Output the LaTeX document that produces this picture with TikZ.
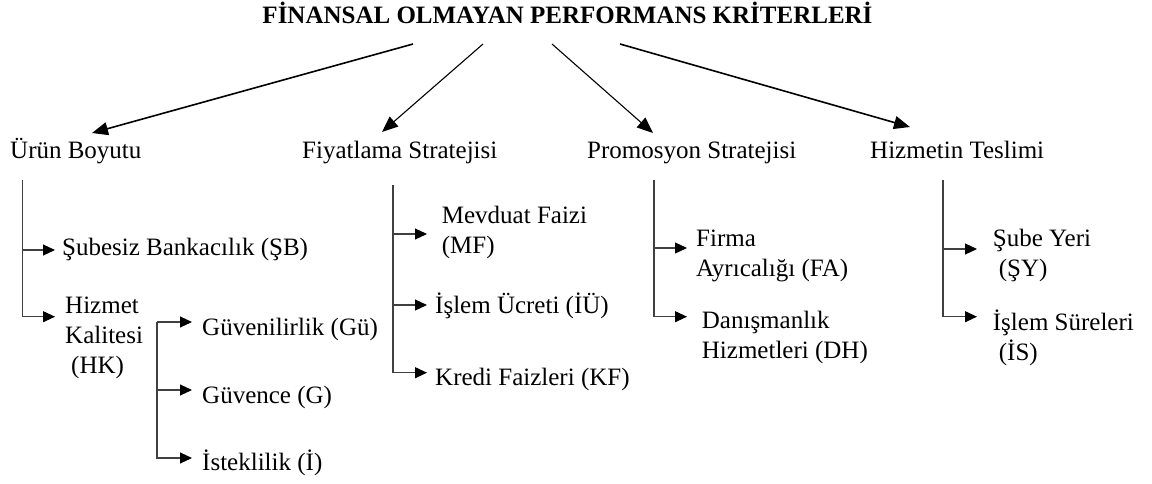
\documentclass[tikz,border=0pt]{standalone}
\usepackage{fontspec}
\setmainfont{Liberation Serif}
\usetikzlibrary{arrows.meta}
% left-aligned multi-line label, aligned on the baseline of its first line
\newcommand\stacklines[1]{\begin{tabular}[t]{@{}l@{}}#1\end{tabular}}
\tikzset{
  lbl/.style={inner sep=0pt, anchor=base west, font=\fontsize{25}{30}\selectfont},
  ttl/.style={inner sep=0pt, anchor=base, font=\fontsize{25}{30}\selectfont\bfseries},
  toparrow/.style={line width=#1, -{Triangle[length=16pt,width=13pt]}},
  toparrow/.default=1.2pt,
  br/.style={line width=1.1pt, draw=black!75, -{Triangle[length=12pt,width=11pt,color=black]}},
}
\begin{document}
\begin{tikzpicture}[x=1pt,y=-1pt]
\useasboundingbox (0,0) rectangle (1152,483);

% title
\node[ttl] (root) at (567.5,23) {FİNANSAL OLMAYAN PERFORMANS KRİTERLERİ};

% main dimensions
\node[lbl] (urun)  at (10,158)  {Ürün Boyutu};
\node[lbl] (fiyat) at (302,158) {Fiyatlama Stratejisi};
\node[lbl] (promo) at (587,158) {Promosyon Stratejisi};
\node[lbl] (teslim) at (870,158) {Hizmetin Teslimi};

% arrows from the title to the dimensions
\coordinate (s1) at (413,44);  \coordinate (e1) at (92,133);
\coordinate (s2) at (483,44);  \coordinate (e2) at (382,132);
\coordinate (s3) at (552,44);  \coordinate (e3) at (653,133);
\coordinate (s4) at (620,44);  \coordinate (e4) at (910,127);
\draw[toparrow=1.6pt] (s1) -- (e1);
\draw[toparrow=1.1pt] (s2) -- (e2);
\draw[toparrow=1.1pt] (s3) -- (e3);
\draw[toparrow=1.6pt] (s4) -- (e4);

% Ürün Boyutu
\node[lbl] (sb) at (62,255) {Şubesiz Bankacılık (ŞB)};
\node[lbl] (hk) at (65,313) {\stacklines{Hizmet\\Kalitesi\\\hspace*{6pt}(HK)}};
\node[lbl] (gu) at (202,335) {Güvenilirlik (Gü)};
\node[lbl] (gv) at (202,403) {Güvence (G)};
\node[lbl] (ist) at (202,470) {İsteklilik (İ)};
\coordinate (u0) at (22.7,180);
\coordinate (sbt) at (55,250);
\coordinate (hkt) at (55,316.7);
\draw[br] (u0) |- (sbt);
\draw[br] (u0) |- (hkt);
\coordinate (k0) at (157,322);
\coordinate (gut) at (192,322);
\coordinate (gvt) at (192,390);
\coordinate (istt) at (192,458);
\draw[br] (k0) -- (gut);
\draw[br] (k0) |- (gvt);
\draw[br] (k0) |- (istt);

% Fiyatlama Stratejisi
\node[lbl] (mf) at (441.7,223) {\stacklines{Mevduat Faizi\\(MF)}};
\node[lbl] (iu) at (435,313) {İşlem Ücreti (İÜ)};
\node[lbl] (kf) at (435,385) {Kredi Faizleri (KF)};
\coordinate (f0) at (393,185);
\coordinate (mft) at (427,234);
\coordinate (iut) at (427,305);
\coordinate (kft) at (427,372.7);
\draw[br] (f0) |- (mft);
\draw[br] (f0) |- (iut);
\draw[br] (f0) |- (kft);

% Promosyon Stratejisi
\node[lbl] (fa) at (696,246.7) {\stacklines{Firma\\Ayrıcalığı (FA)}};
\node[lbl] (dh) at (701.7,328) {\stacklines{Danışmanlık\\Hizmetleri (DH)}};
\coordinate (p0) at (654,180);
\coordinate (fat) at (687,248);
\coordinate (dht) at (687,316.7);
\draw[br] (p0) |- (fat);
\draw[br] (p0) |- (dht);

% Hizmetin Teslimi
\node[lbl] (sy) at (992.7,246) {\stacklines{Şube Yeri\\\hspace*{6pt}(ŞY)}};
\node[lbl] (ise) at (992.7,330) {\stacklines{İşlem Süreleri\\\hspace*{6pt}(İS)}};
\coordinate (h0) at (943,180);
\coordinate (syt) at (977,249);
\coordinate (iset) at (977,316.7);
\draw[br] (h0) |- (syt);
\draw[br] (h0) |- (iset);
\end{tikzpicture}
\end{document}
